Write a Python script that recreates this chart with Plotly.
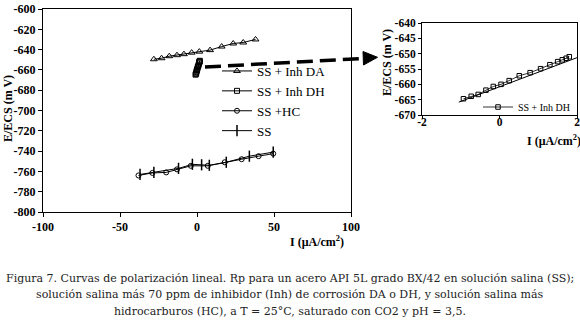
import plotly.graph_objects as go

# ---------------- data ----------------
da_x = [-28, -23, -18, -13, -8.5, -3.5, 1.5, 8.5, 16, 23.5, 30, 38]
da_y = [-649.5, -648.5, -646.5, -645.5, -644.5, -643, -642, -640.5, -637, -634, -633, -630]

dh_x = [-0.93, -0.73, -0.55, -0.35, -0.16, 0.04, 0.25, 0.51, 0.79, 1.06, 1.30, 1.50, 1.62, 1.72, 1.80]
dh_y = [-664.7, -663.9, -663.3, -661.9, -660.7, -660.0, -658.8, -657.2, -656.2, -654.9, -653.6, -652.6, -652.0, -651.5, -651.0]

hc_x = [-38, -29, -20, -13, -4, 7, 18, 29, 40, 49.5]
hc_y = [-764, -761.5, -761, -758, -754.5, -754.5, -751, -748, -745, -742.5]

ss_x = [-37, -28, -12, -3, 3, 8, 19, 34, 49.5]
ss_y = [-763, -761, -757, -753, -753.5, -754, -751, -745, -741]

# fitted straight line drawn in the inset
fit_x = [-1.05, 2.0]
fit_y = [-665.8, -651.3]

main_xticks = [-100, -50, 0, 50, 100]
main_yticks = [-800, -780, -760, -740, -720, -700, -680, -660, -640, -620, -600]
ins_xticks = [-2, 0, 2]
ins_yticks = [-670, -665, -660, -655, -650, -645, -640]

caption = [
    "Figura 7. Curvas de polarización lineal. Rp para un acero API 5L grado BX/42 en solución salina (SS);",
    "solución salina más 70 ppm de inhibidor (Inh) de corrosión DA o DH, y solución salina más",
    "hidrocarburos (HC), a T = 25°C, saturado con CO2 y pH = 3,5.",
]

# ---------------- layout helpers ----------------
W, H = 580, 331
def px(x):
    return x / W
def py(y):
    return 1 - y / H

SERIF = "Liberation Serif, Times New Roman, serif"
BLK = "black"

fig = go.Figure()

# main chart traces
fig.add_trace(go.Scatter(x=da_x, y=da_y, mode="lines+markers", name="SS + Inh DA",
                         line=dict(color=BLK, width=1),
                         marker=dict(symbol="triangle-up-open", size=6, color=BLK, line=dict(width=1)),
                         xaxis="x", yaxis="y", legend="legend"))
fig.add_trace(go.Scatter(x=dh_x, y=dh_y, mode="lines+markers", name="SS + Inh DH",
                         line=dict(color=BLK, width=1),
                         marker=dict(symbol="square-open", size=5, color=BLK, line=dict(width=1)),
                         xaxis="x", yaxis="y", legend="legend"))
fig.add_trace(go.Scatter(x=hc_x, y=hc_y, mode="lines+markers", name="SS +HC",
                         line=dict(color=BLK, width=1),
                         marker=dict(symbol="circle-open", size=5, color=BLK, line=dict(width=1)),
                         xaxis="x", yaxis="y", legend="legend"))
fig.add_trace(go.Scatter(x=ss_x, y=ss_y, mode="lines+markers", name="SS",
                         line=dict(color=BLK, width=1),
                         marker=dict(symbol="line-ns", size=8, color=BLK, line=dict(width=1.5, color=BLK)),
                         xaxis="x", yaxis="y", legend="legend"))

# inset traces
fig.add_trace(go.Scatter(x=fit_x, y=fit_y, mode="lines", showlegend=False,
                         line=dict(color=BLK, width=1), xaxis="x2", yaxis="y2"))
fig.add_trace(go.Scatter(x=dh_x, y=dh_y, mode="lines+markers", name="SS + Inh DH",
                         line=dict(color=BLK, width=0.8),
                         marker=dict(symbol="square-open", size=4.5, color=BLK, line=dict(width=1)),
                         xaxis="x2", yaxis="y2", legend="legend2"))

axis_common = dict(showgrid=False, zeroline=False, showline=True, linecolor=BLK, linewidth=1,
                   mirror=True, ticks="outside", ticklen=4, tickcolor=BLK, tickwidth=1,
                   ticklabeloverflow="allow",
                   tickfont=dict(family=SERIF, size=12, color=BLK, weight="bold"))

fig.update_layout(
    width=W, height=H,
    margin=dict(l=0, r=0, t=0, b=0, autoexpand=False),
    paper_bgcolor="white", plot_bgcolor="white",
    xaxis=dict(axis_common, domain=[px(43), px(351)], range=[-100, 100], anchor="y",
               tickmode="array", tickvals=main_xticks, ticktext=[str(v) for v in main_xticks]),
    yaxis=dict(axis_common, domain=[py(212), py(9)], range=[-800, -600], anchor="x",
               tickmode="array", tickvals=main_yticks, ticktext=[str(v) for v in main_yticks]),
    xaxis2=dict(axis_common, domain=[px(422), px(577)], range=[-2, 2], anchor="y2",
                tickmode="array", tickvals=ins_xticks, ticktext=[str(v) for v in ins_xticks],
                ticklen=3, ticklabelstandoff=-7,
                tickfont=dict(family=SERIF, size=11.5, color=BLK, weight="bold")),
    yaxis2=dict(axis_common, domain=[py(115), py(23)], range=[-670, -640], anchor="x2",
                tickmode="array", tickvals=ins_yticks, ticktext=[str(v) for v in ins_yticks],
                ticklen=3,
                tickfont=dict(family=SERIF, size=11.5, color=BLK, weight="bold")),
    legend=dict(x=px(217), y=py(56), xanchor="left", yanchor="top",
                bgcolor="rgba(0,0,0,0)", borderwidth=0, itemwidth=30,
                font=dict(family=SERIF, size=13, color=BLK), itemclick=False, itemdoubleclick=False),
    legend2=dict(x=px(478), y=py(107), xanchor="left", yanchor="middle",
                 bgcolor="rgba(0,0,0,0)", borderwidth=0, itemwidth=30,
                 font=dict(family=SERIF, size=10, color=BLK), itemclick=False, itemdoubleclick=False),
    showlegend=True,
)

ann = []
title_font = dict(family=SERIF, size=12, color=BLK, weight="bold")
# axis titles
ann.append(dict(text="E/ECS (m V)", x=px(8), y=py(109), xref="paper", yref="paper", textangle=-90,
                xanchor="center", yanchor="middle", showarrow=False, font=title_font))
ann.append(dict(text="I (μA/cm<sup>2</sup>)", x=px(317), y=py(241), xref="paper", yref="paper",
                xanchor="center", yanchor="middle", showarrow=False, font=title_font))
ann.append(dict(text="E/ECS (m V)", x=px(387), y=py(62), xref="paper", yref="paper", textangle=-90,
                xanchor="center", yanchor="middle", showarrow=False, font=title_font))
ann.append(dict(text="I (μA/cm<sup>2</sup>)", x=px(554), y=py(140), xref="paper", yref="paper",
                xanchor="center", yanchor="middle", showarrow=False, font=title_font))
# caption
for i, line in enumerate(caption):
    ann.append(dict(text=line, x=px(290), y=py(278 + i * 16.7), xref="paper", yref="paper",
                    xanchor="center", yanchor="middle", showarrow=False,
                    font=dict(family="DejaVu Serif, serif", size=11.0, color="#222")))
fig.update_layout(annotations=ann)

# dashed pointer arrow from the main chart to the inset
shapes = [
    dict(type="line", xref="paper", yref="paper",
         x0=px(205), y0=py(67), x1=px(364), y1=py(58.4),
         line=dict(color=BLK, width=3.5, dash="16px,7px")),
    dict(type="path", xref="paper", yref="paper",
         path="M {},{} L {},{} L {},{} Z".format(px(363), py(51.5), px(377.5), py(57.3), px(363.5), py(65)),
         fillcolor=BLK, line=dict(color=BLK, width=1)),
]
fig.update_layout(shapes=shapes)

# remove the default 8px page margin so the figure fills the window exactly
fig.write_html("out.html", config={"displayModeBar": False},
               post_script="document.body.style.margin='0';")
